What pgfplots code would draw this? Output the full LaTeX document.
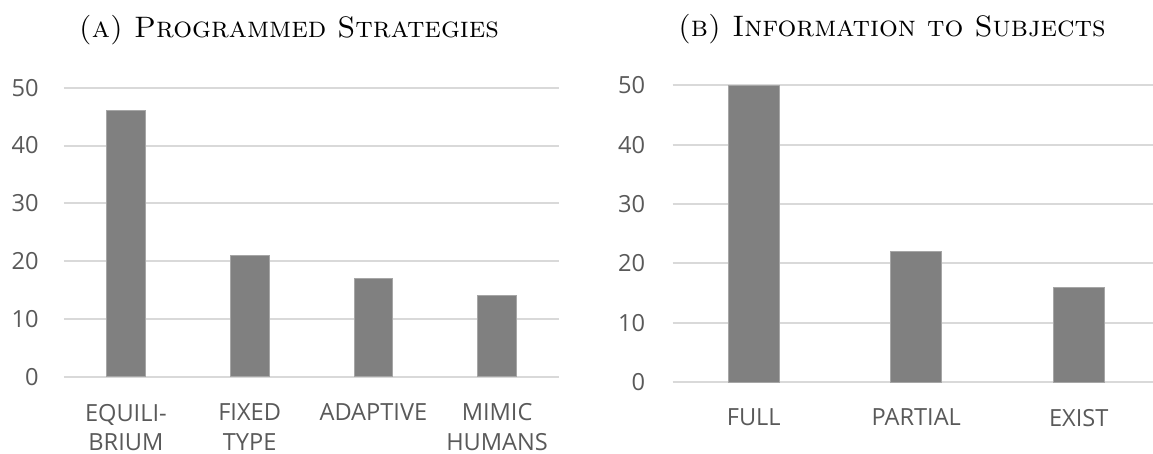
\documentclass[border=0pt]{standalone}
\usepackage{fontspec}
\usepackage{pgfplots}
\pgfplotsset{compat=1.18}
\newfontfamily\osans{Open Sans}
\definecolor{barc}{HTML}{808080}
\definecolor{barb}{HTML}{A6A6A6}
\definecolor{gridc}{HTML}{D9D9D9}
\definecolor{txt}{HTML}{595959}

\pgfplotsset{
  panel/.style={
    scale only axis,
    anchor=south west,
    ybar,
    ymin=0, ymax=50,
    ytick={0,10,...,50},
    xtick=data,
    axis line style={draw=none},
    major tick length=0pt,
    ymajorgrids,
    grid style={gridc, line width=1pt},
    /pgf/number format/assume math mode=true,
    tick label style={txt, font=\osans\fontsize{11.8}{14.9}\selectfont},
    xticklabel style={anchor=north, inner sep=0pt, align=center},
    yticklabel style={anchor=east, inner sep=0pt},
    % the default title style shifts up by 6pt; cancel it
    title style={anchor=base, yshift=-6pt, inner sep=0pt, font=\fontsize{14.8}{16}\selectfont},
    clip=false,
  }
}

\begin{document}
\begin{tikzpicture}
\useasboundingbox (0,0) rectangle (576.5pt,227pt);

% (a) programmed strategies
\begin{axis}[panel,
  at={(32pt,38.65pt)},
  width=247.5pt, height=144.5pt,
  xmin=-0.5, xmax=3.5,
  bar width=19.35pt,
  xticklabels={{EQUILI-\\BRIUM},{FIXED\\TYPE},ADAPTIVE,{MIMIC\\HUMANS}},
  xticklabel style={yshift=-13.4pt},
  yticklabel style={xshift=-12.5pt},
  title={\textsc{(a) Programmed Strategies}},
  title style={at={(axis description cs:0.4545,1.1754)}},
]
\addplot[fill=barc, draw=barb, line width=0.4pt] coordinates {(0,46) (1,21) (2,17) (3,14)};
\end{axis}

% (b) information to subjects
\begin{axis}[panel,
  at={(336.25pt,36pt)},
  width=243.75pt, height=148.35pt,
  xmin=-0.5, xmax=2.5,
  bar width=25.5pt,
  xticklabels={FULL,PARTIAL,EXIST},
  xticklabel style={yshift=-13.3pt},
  yticklabel style={xshift=-13.5pt},
  title={\textsc{(b) Information to Subjects}},
  title style={at={(axis description cs:0.450,1.1628)}},
]
\addplot[fill=barc, draw=barb, line width=0.4pt] coordinates {(0,50) (1,22) (2,16)};
\end{axis}
\end{tikzpicture}
\end{document}
